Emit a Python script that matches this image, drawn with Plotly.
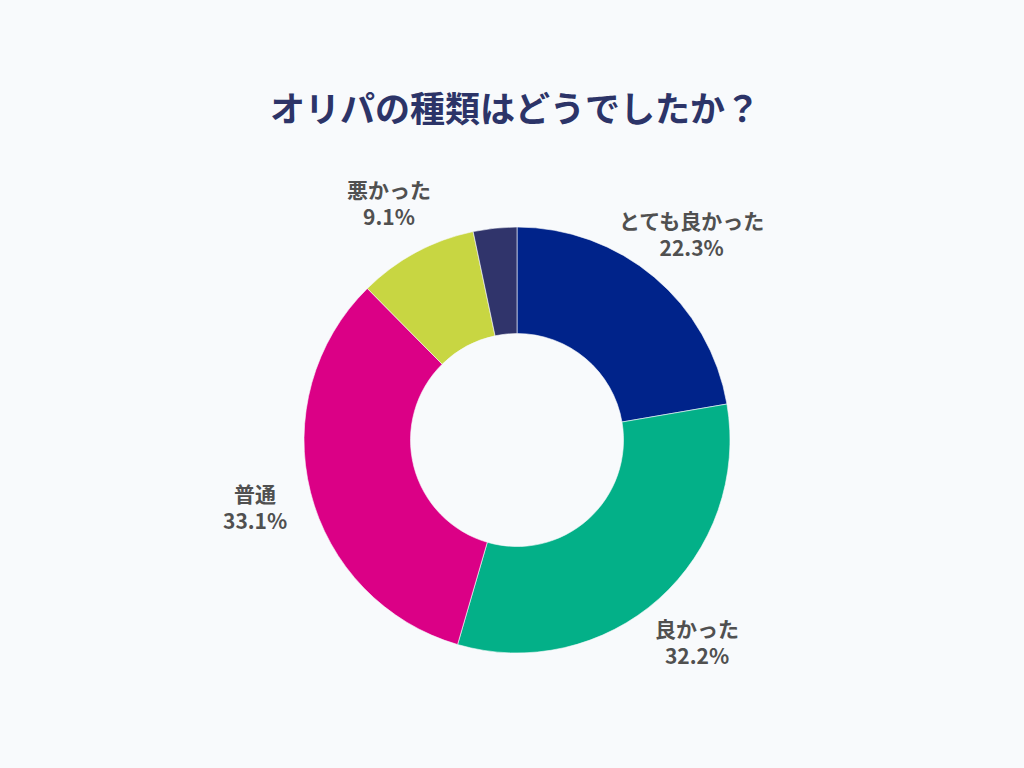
import math
import plotly.graph_objects as go

categories = ["とても良かった", "良かった", "普通", "悪かった", "とても悪かった"]
values = [22.3, 32.2, 33.1, 9.1, 3.3]
show_label = [True, True, True, True, False]
colors = ["#00238A", "#03B088", "#DB0086", "#C8D642", "#30346B"]

W, H = 1024, 768
CX, CY, R = 517, 440, 213
LABEL_R = 270

fig = go.Figure()
fig.add_trace(go.Pie(
    labels=categories,
    values=values,
    sort=False,
    direction="clockwise",
    rotation=0,
    hole=0.5,
    marker=dict(colors=colors, line=dict(color="#F8FAFC", width=0.6)),
    textinfo="none",
    hoverinfo="label+percent",
    showlegend=False,
    domain=dict(x=[(CX - R) / W, (CX + R) / W], y=[(H - CY - R) / H, (H - CY + R) / H]),
))

total = sum(values)
cum = 0.0
for cat, v, show in zip(categories, values, show_label):
    mid = (cum + v / 2) / total * 2 * math.pi
    cum += v
    if not show:
        continue
    px = CX + LABEL_R * math.sin(mid)
    py = CY - LABEL_R * math.cos(mid)
    fig.add_annotation(
        x=px / W, y=1 - py / H, xref="paper", yref="paper",
        text=f"<b>{cat}</b><br><b>{v:.1f}%</b>",
        showarrow=False, xanchor="center", yanchor="middle", align="center",
        font=dict(family="Noto Sans CJK JP", size=21, color="#505050"),
    )

fig.add_annotation(
    x=515 / W, y=1 - 107 / H, xref="paper", yref="paper",
    text="<b>オリパの種類はどうでしたか？</b>", showarrow=False,
    xanchor="center", yanchor="middle",
    font=dict(family="Noto Sans CJK JP", size=35, color="#2C3468"),
)

fig.update_layout(
    width=W, height=H,
    margin=dict(l=0, r=0, t=0, b=0),
    paper_bgcolor="#F8FAFC",
    plot_bgcolor="#F8FAFC",
)

fig.write_html("out.html")
